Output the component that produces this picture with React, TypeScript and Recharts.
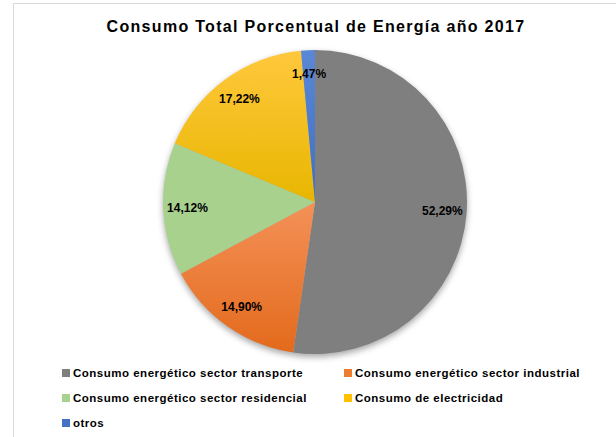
import React from "react";
import { PieChart, Pie, Cell } from "recharts";

const categories = [
  "Consumo energético sector transporte",
  "Consumo energético sector industrial",
  "Consumo energético sector residencial",
  "Consumo de electricidad",
  "otros",
];
const values = [52.29, 14.9, 14.12, 17.22, 1.47];
const topColors = ["#7f7f7f", "#f49158", "#a9d18e", "#ffc83d", "#5a88d6"];
const bottomColors = ["#7f7f7f", "#e36a1c", "#a9d18e", "#e8b600", "#3f6fc2"];
const legendColors = ["#7f7f7f", "#ed7d31", "#a9d18e", "#ffc000", "#4472c4"];

const data = categories.map((name, i) => ({ name, value: values[i] }));

const FONT = "'Liberation Sans', Arial, sans-serif";
const RADIAN = Math.PI / 180;

const renderLabel = (props: any) => {
  const { cx, cy, midAngle, outerRadius, value } = props;
  const r = outerRadius * 0.84;
  const x = cx + r * Math.cos(-midAngle * RADIAN);
  const y = cy + r * Math.sin(-midAngle * RADIAN);
  return (
    <text
      x={x}
      y={y}
      textAnchor="middle"
      dominantBaseline="central"
      fill="#000"
      fontSize={12}
      fontWeight="bold"
      fontFamily={FONT}
    >
      {value.toFixed(2).replace(".", ",") + "%"}
    </text>
  );
};

export default function App() {
  return (
    <div
      style={{
        position: "absolute",
        left: 0,
        top: 0,
        width: 616,
        height: 437,
        background: "#fff",
        overflow: "hidden",
      }}
    >
      <style>{`.recharts-pie { filter: drop-shadow(0px 3px 3px rgba(0,0,0,0.35)); }`}</style>
      <div
        style={{
          position: "absolute",
          left: 13,
          top: 3,
          width: 700,
          height: 500,
          borderLeft: "1px solid #d9d9d9",
          borderTop: "1px solid #d9d9d9",
        }}
      />
      <div
        style={{
          position: "absolute",
          left: 0,
          top: 18,
          width: 632,
          textAlign: "center",
          fontFamily: FONT,
          fontSize: 16,
          fontWeight: "bold",
          letterSpacing: 1.3,
          color: "#000",
        }}
      >
        Consumo Total Porcentual de Energía año 2017
      </div>
      <PieChart
        width={616}
        height={437}
        margin={{ top: 0, right: 0, bottom: 0, left: 0 }}
        style={{ position: "absolute", left: 0, top: 0 }}
      >
        <defs>
          {categories.map((c, i) => (
            <linearGradient key={c} id={"grad" + i} x1="0" y1="0" x2="0" y2="1">
              <stop offset="0%" stopColor={topColors[i]} />
              <stop offset="100%" stopColor={bottomColors[i]} />
            </linearGradient>
          ))}
        </defs>
        <Pie
          data={data}
          dataKey="value"
          nameKey="name"
          cx={315}
          cy={202}
          outerRadius={152}
          startAngle={90}
          endAngle={-270}
          stroke="none"
          label={renderLabel}
          labelLine={false}
          isAnimationActive={false}
        >
          {data.map((d, i) => (
            <Cell key={d.name} fill={`url(#grad${i})`} />
          ))}
        </Pie>
      </PieChart>
      <div
        style={{
          position: "absolute",
          left: 62,
          top: 364,
          width: 560,
          display: "grid",
          gridTemplateColumns: "282px 250px",
          rowGap: 8,
          fontFamily: FONT,
          fontSize: 11.5,
          fontWeight: "bold",
          letterSpacing: 0.5,
          color: "#000",
        }}
      >
        {categories.map((c, i) => (
          <div key={c} style={{ display: "flex", alignItems: "center", height: 17 }}>
            <span
              style={{
                width: 8,
                height: 8,
                background: legendColors[i],
                marginRight: 3,
                display: "inline-block",
              }}
            />
            {c}
          </div>
        ))}
      </div>
    </div>
  );
}
